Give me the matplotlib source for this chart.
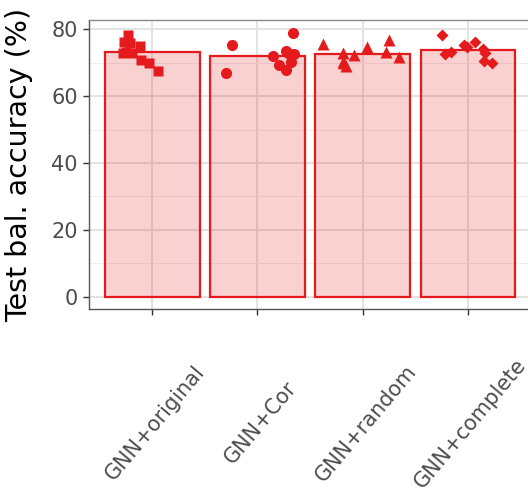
import matplotlib
matplotlib.use("Agg")
import matplotlib.pyplot as plt
import matplotlib.transforms as mtransforms

# data
groups = ["GNN+original", "GNN+Cor", "GNN+random", "GNN+complete"]
bar_means = [73.2, 71.9, 72.5, 73.6]
markers = ["s", "o", "^", "D"]
marker_sizes = [7.3, 8.0, 8.5, 6.4]

acc_original = [78.2, 76.1, 74.9, 75.8, 72.8, 72.8, 70.7, 69.9, 67.5, 73.0]
jit_original = [-0.23, -0.27, -0.12, -0.21, -0.28, -0.19, -0.11, -0.03, 0.06, -0.25]
acc_cor = [75.2, 66.8, 78.7, 71.9, 73.5, 72.4, 69.3, 67.8, 70.2, 72.7]
jit_cor = [-0.24, -0.30, 0.34, 0.15, 0.27, 0.35, 0.21, 0.27, 0.32, 0.29]
acc_random = [75.6, 72.8, 72.2, 74.7, 76.8, 73.2, 71.7, 70.2, 68.9, 69.8]
jit_random = [-0.38, -0.19, -0.08, 0.04, 0.25, 0.22, 0.35, -0.19, -0.16, -0.18]
acc_complete = [78.2, 72.5, 73.0, 75.2, 74.5, 76.2, 73.9, 72.7, 70.5, 69.9]
jit_complete = [-0.25, -0.22, -0.16, -0.04, -0.01, 0.07, 0.14, 0.16, 0.15, 0.23]

points = [(acc_original, jit_original), (acc_cor, jit_cor),
          (acc_random, jit_random), (acc_complete, jit_complete)]

red = "#E41A1C"

fig = plt.figure(figsize=(5.28, 4.96), dpi=100)
ax = fig.add_axes([89 / 528, (496 - 309) / 496, 442 / 528, 289 / 496])

ax.set_xlim(-0.6, 3.6)
ax.set_ylim(-3.6, 82.7)

# grid
ax.set_yticks([0, 20, 40, 60, 80])
ax.set_yticks([10, 30, 50, 70], minor=True)
ax.set_xticks(range(len(groups)))
ax.grid(True, which="major", color="#E3E3E3", lw=1.4, zorder=0)
ax.grid(True, which="minor", axis="y", color="#EEEEEE", lw=0.7, zorder=0)
ax.set_axisbelow(True)

ax.bar(range(len(groups)), bar_means, width=0.9, color=red, alpha=0.2, zorder=2)
ax.bar(range(len(groups)), bar_means, width=0.9, fill=False, edgecolor=red, lw=1.6, zorder=3)

for i, (acc, jit) in enumerate(points):
    xs = [i + j for j in jit]
    ax.plot(xs, acc, ls="none", marker=markers[i], ms=marker_sizes[i],
            color=red, mec="none", zorder=4, clip_on=False)

for s in ["left", "bottom"]:
    ax.spines[s].set_color("#555555")
    ax.spines[s].set_linewidth(1.0)
ax.spines["top"].set_color("#888888")
ax.spines["top"].set_linewidth(1.0)
ax.spines["right"].set_visible(False)

ax.tick_params(which="major", length=4, width=1, color="#333333",
               labelcolor="#4D4D4D", labelsize=15, pad=4)
ax.tick_params(which="minor", length=0)

# x labels, rotated and centred below each tick
ax.set_xticklabels([])
for i, g in enumerate(groups):
    off = mtransforms.ScaledTranslation(0.03, -1.14, fig.dpi_scale_trans)
    ax.text(i, 0, g, transform=ax.get_xaxis_transform() + off,
            rotation=50, rotation_mode="anchor", ha="center", va="center",
            fontsize=15, color="#4D4D4D")

ax.set_ylabel("Test bal. accuracy (%)", fontsize=20.5, color="black")
ax.yaxis.set_label_coords((33 - 89) / 442, 0.5)

fig.savefig("out.png", dpi=100)
